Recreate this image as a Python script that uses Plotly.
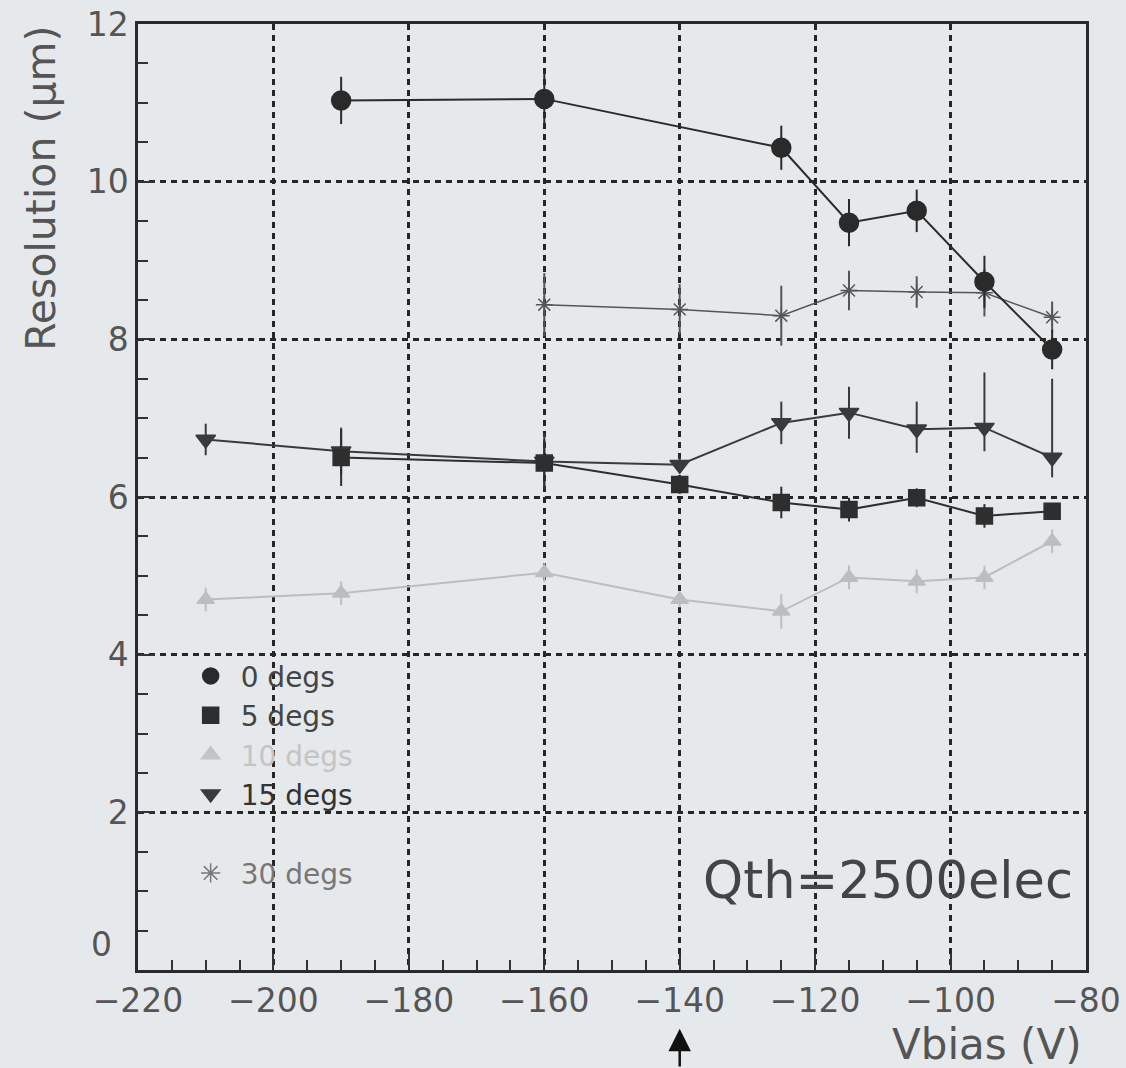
import plotly.graph_objects as go

# ---- data ----
x0 = [-190, -160, -125, -115, -105, -95, -85]
y0 = [11.03, 11.05, 10.43, 9.48, 9.63, 8.73, 7.87]
e0 = [0.30, 0.35, 0.28, 0.30, 0.27, 0.33, 0.25]

x5 = [-190, -160, -140, -125, -115, -105, -95, -85]
y5 = [6.50, 6.43, 6.16, 5.93, 5.84, 5.99, 5.76, 5.82]
e5 = [0.36, 0.30, 0.12, 0.20, 0.15, 0.12, 0.15, 0.10]

x10 = [-210, -190, -160, -140, -125, -115, -105, -95, -85]
y10 = [4.70, 4.78, 5.04, 4.70, 4.55, 4.98, 4.93, 4.98, 5.44]
e10 = [0.15, 0.15, 0.12, 0.10, 0.22, 0.15, 0.15, 0.15, 0.15]

x15 = [-210, -190, -160, -140, -125, -115, -105, -95, -85]
y15 = [6.73, 6.58, 6.45, 6.41, 6.94, 7.07, 6.86, 6.88, 6.50]
e15p = [0.20, 0.30, 0.35, 0.10, 0.27, 0.33, 0.35, 0.70, 1.00]
e15m = [0.20, 0.30, 0.35, 0.10, 0.27, 0.33, 0.30, 0.30, 0.25]

x30 = [-160, -140, -125, -115, -105, -95, -85]
y30 = [8.44, 8.38, 8.30, 8.62, 8.60, 8.59, 8.28]
e30 = [0.40, 0.32, 0.38, 0.25, 0.20, 0.30, 0.20]

series_names = ["0 degs", "5 degs", "10 degs", "15 degs", "30 degs"]
x_ticks = [-220, -200, -180, -160, -140, -120, -100, -80]
y_ticks = [0, 2, 4, 6, 8, 10, 12]

BG = "#e6e9ec"
FONT = "DejaVu Sans"

fig = go.Figure()

def add_series(x, y, err, color, symbol, size, lw, errm=None):
    ey = dict(type="data", array=err, visible=True, color=color, thickness=2, width=0)
    if errm is not None:
        ey["symmetric"] = False
        ey["arrayminus"] = errm
    fig.add_trace(go.Scatter(
        x=x, y=y, mode="lines+markers", showlegend=False,
        line=dict(color=color, width=lw),
        marker=dict(symbol=symbol, size=size, color=color,
                    line=dict(color=color, width=1.5)),
        error_y=ey))

add_series(x10, y10, e10, "#bdbdbd", "triangle-up", 15, 2)
add_series(x30, y30, e30, "#555555", "asterisk-open", 14, 1.5)
add_series(x15, y15, e15p, "#3a3a3a", "triangle-down", 17, 2, errm=e15m)
add_series(x5, y5, e5, "#2e2e2e", "square", 16, 2)
add_series(x0, y0, e0, "#2a2a2a", "circle", 19, 2)

# legend-only entries
leg = [
    (series_names[0], "circle", "#2a2a2a", "#444444"),
    (series_names[1], "square", "#2e2e2e", "#444444"),
    (series_names[2], "triangle-up", "#c4c4c4", "#c4c4c4"),
    (series_names[3], "triangle-down", "#3a3a3a", "#333333"),
    (" ", "circle", "rgba(0,0,0,0)", BG),
    (series_names[4], "asterisk-open", "#777777", "#777777"),
]
for name, sym, mc, tc in leg:
    fig.add_trace(go.Scatter(
        x=[None], y=[None], mode="markers",
        name=f"<span style='color:{tc}'>{name}</span>",
        marker=dict(symbol=sym, size=16, color=mc, line=dict(color=mc, width=1.5))))

axis_common = dict(
    showline=True, linecolor="#2a2a2a", linewidth=2.5, mirror=True,
    ticks="inside", ticklen=16, tickwidth=1.5, tickcolor="#333333",
    showgrid=True, gridcolor="#262626", gridwidth=2.5, griddash="6px,5px",
    zeroline=False, automargin=False,
    tickfont=dict(family=FONT, size=33, color="#555555"),
)

fig.update_xaxes(range=[-220, -80], tickvals=x_ticks,
                 ticktext=[f"\u2212{abs(v)}" for v in x_ticks],
                 minor=dict(dtick=5, ticks="inside", ticklen=10, tickcolor="#333333", showgrid=False),
                 **axis_common)
fig.update_yaxes(range=[0, 12], tickvals=y_ticks,
                 ticktext=["" if v == 0 else str(v) for v in y_ticks],
                 minor=dict(dtick=0.5, ticks="inside", ticklen=10, tickcolor="#333333", showgrid=False),
                 **axis_common)

# the "0" y label sits raised above the corner in the reference
fig.add_annotation(text=str(y_ticks[0]), xref="paper", yref="y", x=0, y=y_ticks[0],
                   xanchor="right", yanchor="bottom", xshift=-24, yshift=4, showarrow=False,
                   font=dict(family=FONT, size=33, color="#555555"))

fig.add_annotation(text="Qth=2500elec", xref="paper", yref="paper", x=0.988, y=0.095,
                   xanchor="right", yanchor="middle", showarrow=False,
                   font=dict(family=FONT, size=51, color="#444444"))
fig.add_annotation(text="Vbias (V)", xref="paper", yref="paper", x=0.998, y=-0.079,
                   xanchor="right", yanchor="middle", showarrow=False,
                   font=dict(family=FONT, size=42, color="#555555"))
fig.add_annotation(text="Resolution (\u03bcm)", xref="paper", yref="paper", x=-0.103, y=1.0,
                   xanchor="center", yanchor="top", textangle=-90, showarrow=False,
                   font=dict(family=FONT, size=41, color="#555555"))
fig.add_annotation(text="", xref="x", yref="paper", x=-140, y=-0.062,
                   ax=0, ay=42, showarrow=True, arrowhead=2, arrowsize=1.8,
                   arrowwidth=2.5, arrowcolor="#111111")

fig.update_layout(
    width=1126, height=1068,
    margin=dict(l=138, r=40, t=24, b=98),
    paper_bgcolor=BG, plot_bgcolor=BG,
    legend=dict(x=0.045, y=0.337, xanchor="left", yanchor="top",
                bgcolor="rgba(0,0,0,0)", tracegroupgap=0, itemwidth=50,
                font=dict(family=FONT, size=28, color="#444444")),
    font=dict(family=FONT),
)

fig.write_html("out.html")
